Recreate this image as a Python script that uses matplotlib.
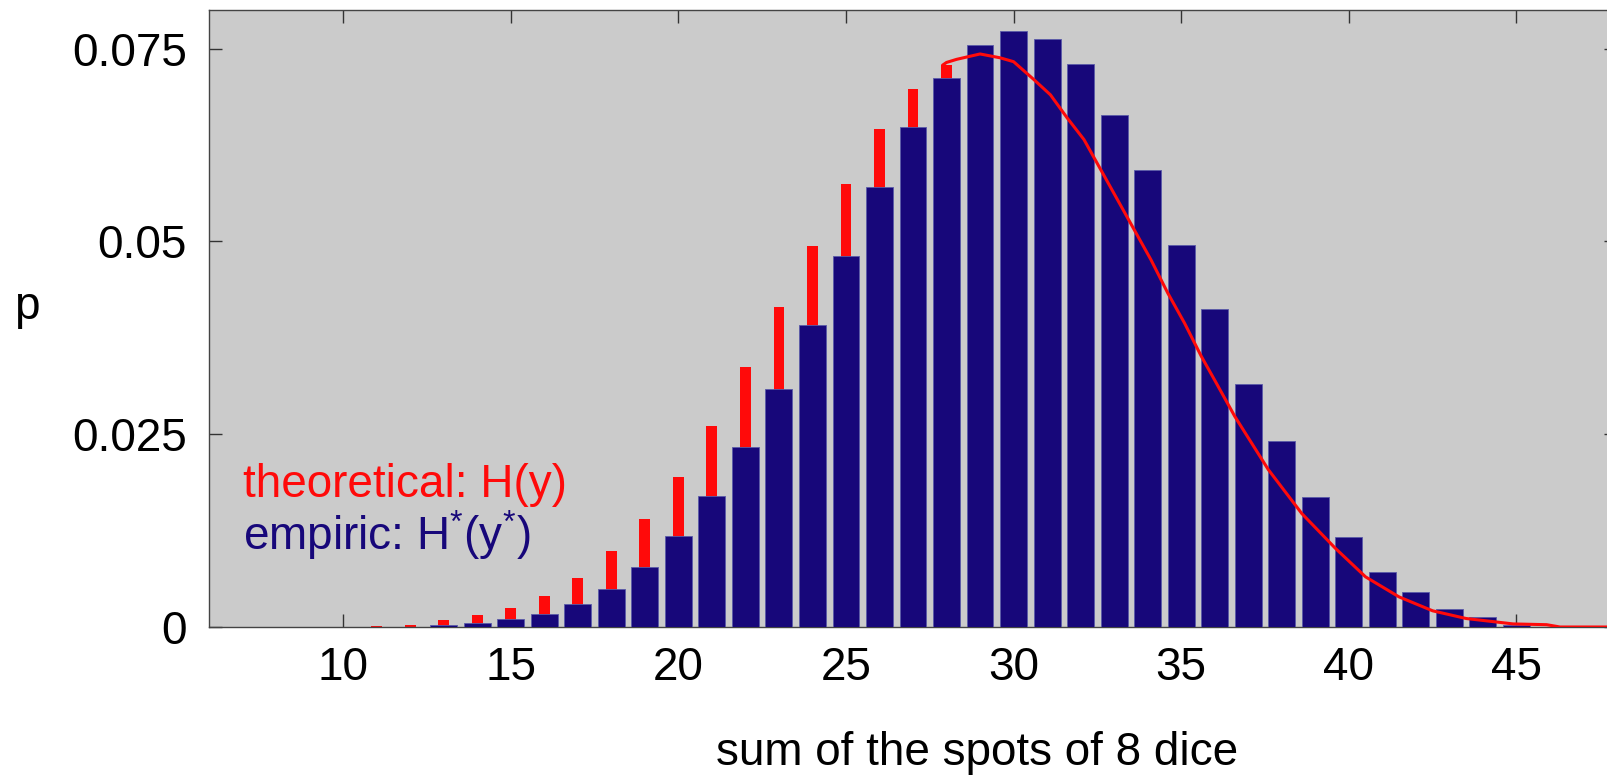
import matplotlib
matplotlib.use("Agg")
import matplotlib.pyplot as plt

plt.rcParams['font.family'] = ['Liberation Sans', 'DejaVu Sans']
plt.rcParams['mathtext.fontset'] = 'custom'
plt.rcParams['mathtext.rm'] = 'Liberation Sans'
plt.rcParams['mathtext.it'] = 'Liberation Sans'
plt.rcParams['mathtext.default'] = 'regular'

# empirical bars
emp_x = list(range(8, 48))
emp_p = [0, 0, 0, 0, 0, 0.0002, 0.0005, 0.0010, 0.0017, 0.0030,
         0.0049, 0.0078, 0.0118, 0.0170, 0.0234, 0.0309, 0.0392, 0.0481, 0.0570, 0.0648,
         0.0712, 0.0755, 0.0773, 0.0762, 0.0730, 0.0664, 0.0592, 0.0495, 0.0412, 0.0315,
         0.0241, 0.0168, 0.0117, 0.0071, 0.0045, 0.0023, 0.0013, 0.0003, 0, 0]

# theoretical bars (visible part)
theo_x = list(range(11, 29))
theo_p = [0.0001, 0.0003, 0.00085, 0.0015, 0.0024, 0.0040, 0.0064, 0.0099, 0.0140,
          0.0194, 0.0261, 0.0337, 0.0415, 0.0494, 0.0574, 0.0646, 0.0698, 0.0729]

# theoretical curve
curve_x = [27.9, 28.0, 28.3, 29.0, 29.6, 30.0, 30.6, 31.1, 31.6, 32.1, 32.6, 33.1, 33.6,
           34.1, 34.6, 35.1, 35.6, 36.0, 36.6, 37.6, 38.6, 39.6, 40.5, 41.5, 42.5, 43.5,
           44.5, 44.9, 45.9, 46.3, 48.0]
curve_p = [0.0729, 0.0732, 0.0736, 0.0743, 0.0738, 0.0733, 0.0710, 0.0690, 0.0660, 0.0632,
           0.0593, 0.0554, 0.0515, 0.0476, 0.0433, 0.0394, 0.0351, 0.0320, 0.0273, 0.0204,
           0.0147, 0.0102, 0.0065, 0.0039, 0.0021, 0.0011, 0.0006, 0.0004, 0.0003, 0.0, 0.0]

xticks = [10, 15, 20, 25, 30, 35, 40, 45]
yticks = [0, 0.025, 0.05, 0.075]
yticklabels = ['0', '0.025', '0.05', '0.075']

FS = 33
W, H = 1607, 776
fig = plt.figure(figsize=(W / 100, H / 100), dpi=100)
fig.patch.set_facecolor('white')
left, right, top, bottom = 209, 1617, 10, 627
ax = fig.add_axes([left / W, 1 - bottom / H, (right - left) / W, (bottom - top) / H])
ax.set_facecolor('#cbcbcb')

red = '#ff0a0a'
navy = '#17077a'

ax.bar(theo_x, theo_p, width=0.32, color=red, zorder=2)
ax.bar(emp_x, emp_p, width=0.8, color=navy, edgecolor='#5a5aa8', linewidth=0.6, zorder=3)
ax.plot(curve_x, curve_p, color=red, linewidth=2.2, zorder=4)

ax.set_xlim(6, 48)
ax.set_ylim(0, 0.08)
ax.set_xticks(xticks)
ax.set_xticklabels([str(t) for t in xticks])
ax.set_yticks(yticks)
ax.set_yticklabels(yticklabels)
ax.tick_params(direction='in', length=9.4, width=1.0, color='#333333',
               top=True, right=True, labelsize=FS, labelcolor='black')
ax.tick_params(axis='x', pad=14)
ax.tick_params(axis='y', pad=16)
for s in ax.spines.values():
    s.set_color('#444444')
    s.set_linewidth(1.0)

ax.text(7.02, 0.0169, 'theoretical: H(y)', color=red, fontsize=FS, va='baseline', ha='left', zorder=5)
ax.text(7.02, 0.00998, r'empiric: H$^{*}$(y$^{*}$)', color=navy, fontsize=FS, va='baseline', ha='left', zorder=5)

fig.text(977 / W, 1 - 765 / H, 'sum of the spots of 8 dice', fontsize=FS, ha='center', va='baseline')
fig.text(27 / W, 1 - 307 / H, 'p', fontsize=FS, ha='center', va='center')

fig.savefig('out.png', dpi=100)
